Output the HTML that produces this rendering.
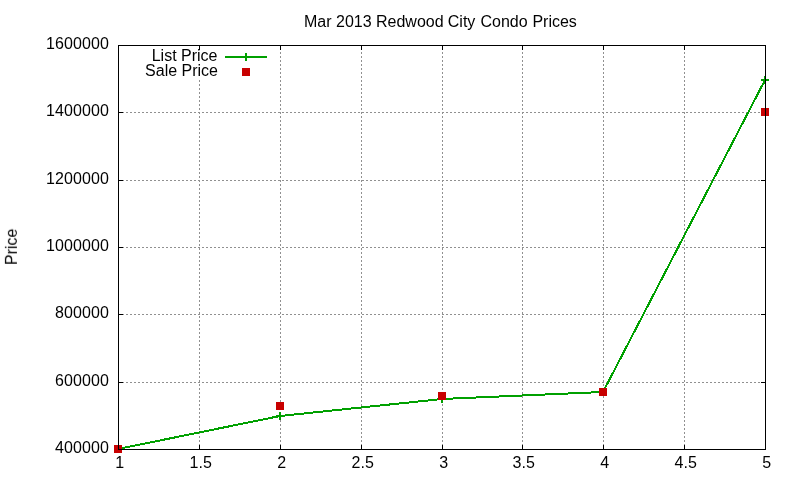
<!DOCTYPE html>
<html lang="en"><head><meta charset="utf-8"><title>Mar 2013 Redwood City Condo Prices</title>
<style>html,body{margin:0;padding:0;background:#fff;}body{width:800px;height:480px;overflow:hidden;}svg{display:block;}text{font-family:"Liberation Sans", Arial, sans-serif;font-size:16px;fill:#000;}.t{opacity:0.999;}</style></head><body>
<svg width="800" height="480" viewBox="0 0 800 480">
<rect width="800" height="480" fill="#fff"/>
<g stroke="#909090" stroke-width="1" stroke-dasharray="2 2" shape-rendering="crispEdges" fill="none">
<line x1="199.5" y1="80" x2="199.5" y2="449"/>
<line x1="280.5" y1="48" x2="280.5" y2="449"/>
<line x1="361.5" y1="48" x2="361.5" y2="449"/>
<line x1="442.5" y1="48" x2="442.5" y2="449"/>
<line x1="522.5" y1="48" x2="522.5" y2="449"/>
<line x1="603.5" y1="48" x2="603.5" y2="449"/>
<line x1="684.5" y1="48" x2="684.5" y2="449"/>
<line x1="118" y1="382.5" x2="765" y2="382.5"/>
<line x1="118" y1="314.5" x2="765" y2="314.5"/>
<line x1="118" y1="247.5" x2="765" y2="247.5"/>
<line x1="118" y1="180.5" x2="765" y2="180.5"/>
<line x1="118" y1="112.5" x2="765" y2="112.5"/>
</g>
<g stroke="#000" stroke-width="1" shape-rendering="crispEdges" fill="none">
<line x1="118.5" y1="450" x2="118.5" y2="445"/>
<line x1="118.5" y1="45" x2="118.5" y2="50"/>
<line x1="199.5" y1="450" x2="199.5" y2="445"/>
<line x1="199.5" y1="45" x2="199.5" y2="50"/>
<line x1="280.5" y1="450" x2="280.5" y2="445"/>
<line x1="280.5" y1="45" x2="280.5" y2="50"/>
<line x1="361.5" y1="450" x2="361.5" y2="445"/>
<line x1="361.5" y1="45" x2="361.5" y2="50"/>
<line x1="442.5" y1="450" x2="442.5" y2="445"/>
<line x1="442.5" y1="45" x2="442.5" y2="50"/>
<line x1="522.5" y1="450" x2="522.5" y2="445"/>
<line x1="522.5" y1="45" x2="522.5" y2="50"/>
<line x1="603.5" y1="450" x2="603.5" y2="445"/>
<line x1="603.5" y1="45" x2="603.5" y2="50"/>
<line x1="684.5" y1="450" x2="684.5" y2="445"/>
<line x1="684.5" y1="45" x2="684.5" y2="50"/>
<line x1="765.5" y1="450" x2="765.5" y2="445"/>
<line x1="765.5" y1="45" x2="765.5" y2="50"/>
<line x1="118" y1="449.5" x2="123" y2="449.5"/>
<line x1="766" y1="449.5" x2="761" y2="449.5"/>
<line x1="118" y1="382.5" x2="123" y2="382.5"/>
<line x1="766" y1="382.5" x2="761" y2="382.5"/>
<line x1="118" y1="314.5" x2="123" y2="314.5"/>
<line x1="766" y1="314.5" x2="761" y2="314.5"/>
<line x1="118" y1="247.5" x2="123" y2="247.5"/>
<line x1="766" y1="247.5" x2="761" y2="247.5"/>
<line x1="118" y1="180.5" x2="123" y2="180.5"/>
<line x1="766" y1="180.5" x2="761" y2="180.5"/>
<line x1="118" y1="112.5" x2="123" y2="112.5"/>
<line x1="766" y1="112.5" x2="761" y2="112.5"/>
<line x1="118" y1="45.5" x2="123" y2="45.5"/>
<line x1="766" y1="45.5" x2="761" y2="45.5"/>
</g>
<g stroke="#00a000" stroke-width="2" shape-rendering="crispEdges" fill="none">
<polyline points="118,449 280,416 442,399 603,392 765,80"/>
<path d="M114 449H122M118 445V453"/>
<path d="M276 416H284M280 412V420"/>
<path d="M438 399H446M442 395V403"/>
<path d="M599 392H607M603 388V396"/>
<path d="M761 80H769M765 76V84"/>
<path d="M225 57H267M246 53V61"/>
</g>
<g fill="#c80000" shape-rendering="crispEdges">
<rect x="114" y="445" width="8" height="8"/>
<rect x="276" y="402" width="8" height="8"/>
<rect x="438" y="392" width="8" height="8"/>
<rect x="599" y="388" width="8" height="8"/>
<rect x="761" y="108" width="8" height="8"/>
<rect x="242" y="68" width="8" height="8"/>
</g>
<rect x="118.5" y="45.5" width="647" height="404" fill="none" stroke="#000" stroke-width="1" shape-rendering="crispEdges"/>
<g class="t">
<text y="27.2"><tspan x="304">Mar</tspan> <tspan x="336">2013</tspan> <tspan x="376">Redwood</tspan> <tspan x="447.8">City</tspan> <tspan x="480.5">Condo</tspan> <tspan x="532.4">Prices</tspan></text>
<text x="109.1" y="452.5" text-anchor="end" letter-spacing="0.1">400000</text>
<text x="109.1" y="385.5" text-anchor="end" letter-spacing="0.1">600000</text>
<text x="109.1" y="317.5" text-anchor="end" letter-spacing="0.1">800000</text>
<text x="109.1" y="250.5" text-anchor="end" letter-spacing="0.1">1000000</text>
<text x="109.1" y="183.5" text-anchor="end" letter-spacing="0.1">1200000</text>
<text x="109.1" y="115.5" text-anchor="end" letter-spacing="0.1">1400000</text>
<text x="109.1" y="48.5" text-anchor="end" letter-spacing="0.1">1600000</text>
<text x="119.7" y="467.5" text-anchor="middle">1</text>
<text x="200.7" y="467.5" text-anchor="middle">1.5</text>
<text x="281.7" y="467.5" text-anchor="middle">2</text>
<text x="362.7" y="467.5" text-anchor="middle">2.5</text>
<text x="443.7" y="467.5" text-anchor="middle">3</text>
<text x="523.7" y="467.5" text-anchor="middle">3.5</text>
<text x="604.7" y="467.5" text-anchor="middle">4</text>
<text x="685.7" y="467.5" text-anchor="middle">4.5</text>
<text x="766.7" y="467.5" text-anchor="middle">5</text>
<text x="217.5" y="60.6" text-anchor="end">List Price</text>
<text x="218" y="75.7" text-anchor="end">Sale Price</text>
<text transform="translate(16.9 246.8) rotate(-90)" text-anchor="middle">Price</text>
</g>
</svg></body></html>
